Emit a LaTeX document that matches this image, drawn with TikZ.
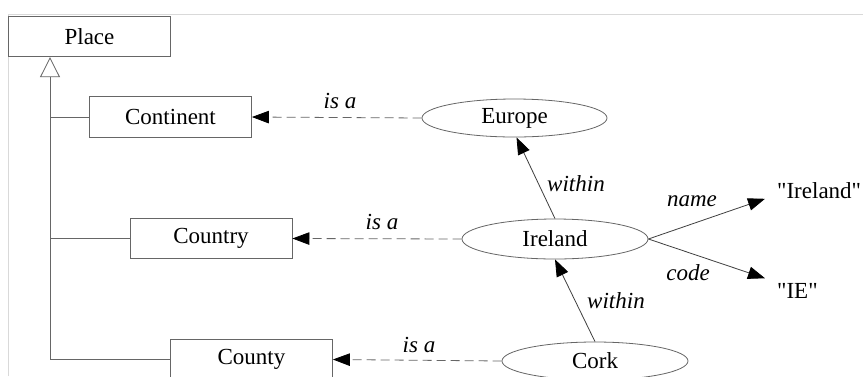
\documentclass[tikz,border=0pt]{standalone}
\usepackage{fontspec}
\setmainfont{Liberation Serif}[Ligatures=TeXOff]
\usetikzlibrary{arrows.meta,shapes.geometric}
\begin{document}
\begin{tikzpicture}[x=1pt,y=-1pt,
  txt/.style={font=\rmfamily\fontsize{23}{27}\selectfont},
  classbox/.style={txt, draw=black!60, line width=0.8pt, minimum width=162pt, minimum height=40.5pt, inner sep=0pt},
  inst/.style={txt, ellipse, draw=black!60, line width=0.8pt, inner sep=0pt},
  lbl/.style={font=\rmfamily\fontsize{23}{27}\selectfont\itshape, inner sep=0pt},
  tip/.style={-{Triangle[length=17pt,width=12.5pt,color=black]}},
  isa/.style={tip, draw=black!60, line width=0.8pt, dash pattern=on 9pt off 5pt},
  rel/.style={tip, draw=black!75, line width=0.8pt},
  tree/.style={draw=black!60, line width=0.8pt}
]
% page and frame
\clip (0,0) rectangle (863,376);
\fill[white] (0,0) rectangle (863,376);
\draw[black!15, line width=0.8pt] (8,376) -- (8,14) -- (863,14);

% class hierarchy
\node[classbox] (place)     at (89.5,36.5)  {Place};
\node[classbox] (continent) at (170.5,117)  {Continent};
\node[classbox] (country)   at (211,238.5)  {Country};
\node[classbox] (county)    at (251.5,359.5) {County};

\coordinate (trunk) at (50,359.5);
\draw[tree, -{Triangle[open,length=20pt,width=20pt,fill=white]}] (trunk) -- (trunk |- place.south);
\draw[tree] (trunk |- continent.west) -- (continent.west);
\draw[tree] (trunk |- country.west) -- (country.west);
\draw[tree] (trunk) -- (county.west);

% instances
\node[inst, minimum width=185pt, minimum height=38pt] (europe)  at (514.5,118) {Europe};
\node[inst, minimum width=186pt, minimum height=40pt] (ireland) at (555,239)   {Ireland};
\node[inst, minimum width=186pt, minimum height=38pt] (cork)    at (595,361)   {Cork};

% literal values
\node[txt, anchor=west, inner xsep=12pt, inner ysep=0pt] (lname) at (765,190.5) {"Ireland"};
\node[txt, anchor=west, inner xsep=12pt, inner ysep=4.5pt] (lcode) at (765,290.5) {"IE"};

% is-a links
\draw[isa] (europe.west)  -- (continent.east);
\draw[isa] (ireland.west) -- (country.east);
\draw[isa] (cork.west)    -- (county.east);
\node[lbl] at (340,101)   {is a};
\node[lbl] at (382,222)   {is a};
\node[lbl] at (419,345)   {is a};

% relations
\draw[rel] (ireland.north) -- (europe.-84);
\draw[rel] (cork.north)    -- (ireland.south);
\draw[rel] (ireland.east)  -- (lname.south west);
\draw[rel] (ireland.east)  -- (lcode.north west);
\node[lbl] at (576,184)   {within};
\node[lbl] at (616,301)   {within};
\node[lbl] at (692,201)   {name};
\node[lbl] at (688,273)   {code};
\end{tikzpicture}
\end{document}
